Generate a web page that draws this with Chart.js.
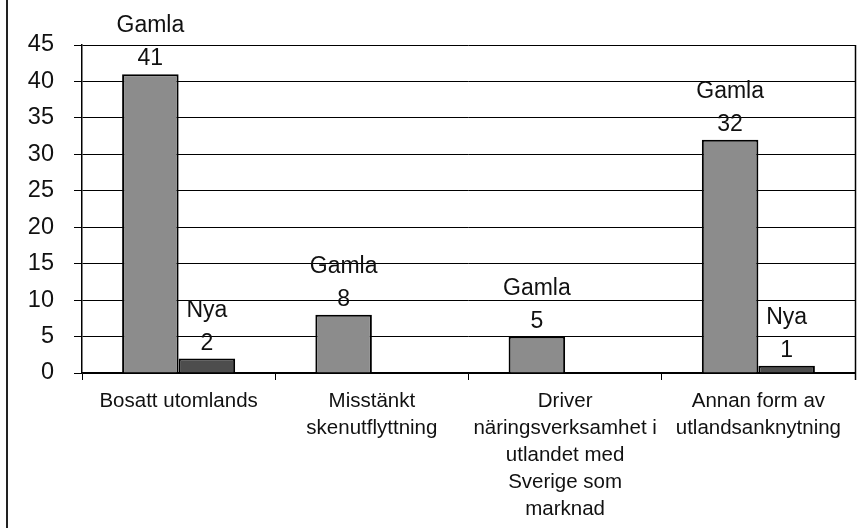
<!DOCTYPE html>
<html>
<head>
<meta charset="utf-8">
<script src="https://cdn.jsdelivr.net/npm/chart.js@4/dist/chart.umd.min.js"></script>
<style>
  html, body { margin: 0; padding: 0; background: #fff; }
  #wrap { position: relative; width: 863px; height: 528px; }
  #frame { position: absolute; left: 6px; top: 0; width: 2px; height: 528px; background: #222; }
  canvas { position: absolute; left: 0; top: 0; }
</style>
</head>
<body>
<div id="wrap">
  <canvas id="c" width="863" height="528"></canvas>
  <div id="frame"></div>
</div>
<script>
const categories = [
  ["Bosatt utomlands"],
  ["Misstänkt", "skenutflyttning"],
  ["Driver", "näringsverksamhet i", "utlandet med", "Sverige som", "marknad"],
  ["Annan form av", "utlandsanknytning"]
];
const seriesNames = ["Gamla", "Nya"];
const gamla = [41, 8, 5, 32];
const nya = [2, 0, 0, 1];
const yTicks = [0, 5, 10, 15, 20, 25, 30, 35, 40, 45];

const FONT = "'Liberation Sans', Arial, sans-serif";

const labelPlugin = {
  id: 'barLabels',
  afterDatasetsDraw(chart) {
    const ctx = chart.ctx;
    ctx.save();
    ctx.fillStyle = '#111';
    ctx.font = "23px " + FONT;
    ctx.textAlign = 'center';
    ctx.textBaseline = 'middle';
    chart.data.datasets.forEach((ds, di) => {
      const meta = chart.getDatasetMeta(di);
      meta.data.forEach((bar, i) => {
        const v = ds.data[i];
        if (!v) return;
        ctx.fillText(String(v), bar.x, bar.y - 15);
        ctx.fillText(ds.label, bar.x, bar.y - 48);
      });
    });
    ctx.restore();
  }
};

const framePlugin = {
  id: 'rightFrame',
  afterDraw(chart) {
    const a = chart.chartArea;
    const ctx = chart.ctx;
    ctx.save();
    ctx.strokeStyle = '#000';
    ctx.lineWidth = 1.5;
    ctx.beginPath();
    ctx.moveTo(Math.round(a.right) + 0.5, a.top);
    ctx.lineTo(Math.round(a.right) + 0.5, a.bottom + 7);
    ctx.stroke();
    ctx.restore();
  }
};

new Chart(document.getElementById('c'), {
  type: 'bar',
  data: {
    labels: categories,
    datasets: [
      { label: seriesNames[0], data: gamla, backgroundColor: '#8c8c8c', borderColor: '#000', borderWidth: 2 },
      { label: seriesNames[1], data: nya, backgroundColor: '#4d4d4d', borderColor: '#000', borderWidth: 2 }
    ]
  },
  options: {
    responsive: false,
    animation: false,
    events: [],
    layout: { padding: { top: 45, right: 8, left: 0, bottom: 0 } },
    plugins: { legend: { display: false }, tooltip: { enabled: false } },
    datasets: { bar: { categoryPercentage: 0.585, barPercentage: 1.0 } },
    scales: {
      x: {
        grid: { drawOnChartArea: false, color: '#000', tickColor: '#000', tickLength: 7, lineWidth: 1 },
        border: { display: true, color: '#000', width: 1.5 },
        ticks: { color: '#111', font: { family: FONT, size: 20.5, lineHeight: 1.32 }, padding: 8, maxRotation: 0, autoSkip: false },
        afterFit(scale) { scale.height = 155; }
      },
      y: {
        min: 0, max: 45,
        afterBuildTicks(scale) { scale.ticks = yTicks.map(v => ({ value: v })); },
        grid: { color: '#000', tickColor: '#000', tickLength: 8, lineWidth: 1 },
        border: { display: true, color: '#000', width: 1.5 },
        ticks: { color: '#111', font: { family: FONT, size: 23.5 }, padding: 20 },
        afterFit(scale) { scale.width = 82; }
      }
    }
  },
  plugins: [labelPlugin, framePlugin]
});
</script>
</body>
</html>
